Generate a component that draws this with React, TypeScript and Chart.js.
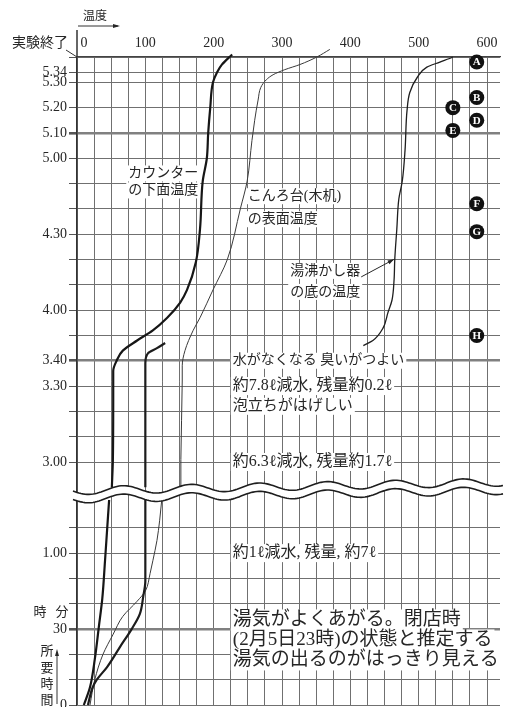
import React, { useEffect, useRef } from "react";
import { Chart, registerables } from "chart.js";

Chart.register(...registerables);

// ---- axis break: real minutes between ~1:22 and ~2:48 are cut out ----
const BREAK_SHIFT = 84;
const toAxis = (t: number | null): number | null =>
  t === null ? null : t <= 120 ? t : t - BREAK_SHIFT;

// ---- curves (temperature °C, elapsed time in minutes; null = axis break) ----
const counterTime = [0, 7, 18, 31, 42, 57, 69, 81, null, 170, 181, 205, 216, 220, 224, 228, 232, 237, 243, 248, 259, 272, 291, 300, 310, 320, 330, 334, 337, 341];
const counterTemp = [10, 19, 26, 32, 37, 41, 44, 47, null, 51, 52.5, 53, 53, 58, 67, 88, 111, 132, 151, 161, 174, 180, 184, 190, 192, 195, 199, 205, 212, 227];

const waterTime = [0, 7, 10, 15, 23, 30, 36, 43, 49, 57, 81, null, 170, 181, 219, 223, 225, 227];
const waterTemp = [16, 23, 29, 44, 63, 80, 92, 97, 100, 100, 100, null, 100, 100, 100, 104, 117, 129];

const konroTime = [0, 10, 20, 28, 35, 41, 45, 52, 57, 65, 73, 81, null, 170, 181, 212, 218, 224, 232, 237, 248, 260, 280, 291, 307, 315, 323, 328, 331, 333, 335, 337, 340, 343];
const konroTemp = [19, 26, 38, 53, 67, 88, 100, 107, 111, 117, 121, 124, null, 152, 152, 154, 154, 158, 170, 180, 199, 220, 239, 249, 256, 260, 265, 269, 277, 287, 304, 326, 351, 370];

const kettleTime = [226, 228, 233, 239, 244, 252, 260, 272, 284, 291, 303, 319, 326, 332, 336, 338, 340, 342];
const kettleTemp = [419, 433, 448, 455, 461, 464, 465, 468, 471, 476, 480, 483, 487, 498, 512, 531, 550, 561];

// ---- lettered markers ----
const markerLetters = ["A", "B", "C", "D", "E", "F", "G", "H"];
const markerTemp = [585, 585, 550, 585, 550, 585, 585, 585];
const markerTime = [338, 324, 320, 315, 311, 282, 271, 230];

// ---- axes ----
const xGridTemps = [0, 25, 50, 75, 100, 125, 150, 175, 200, 225, 250, 275, 300, 325, 350, 375, 400, 425, 450, 475, 500, 525, 550, 575, 600];
const xLabelTemps = [0, 100, 200, 300, 400, 500, 600];
const xLabelTexts = ["\u2007\u20070", "100", "200", "300", "400", "500", "600"];

const yGridTimes = [0, 10, 20, 30, 40, 50, 60, 70, 180, 190, 200, 210, 220, 230, 240, 250, 260, 270, 280, 290, 300, 310, 320, 330, 334, 340];
const yLabelTimes = [0, 30, 60, 180, 210, 220, 240, 270, 300, 310, 320, 330, 334];
const yLabelTexts = ["0", "30", "1.00", "3.00", "3.30", "3.40", "4.00", "4.30", "5.00", "5.10", "5.20", "5.30", "5.34"];
const yThickTimes = [30, 220, 310];

const SERIF = "'Liberation Serif', 'Noto Sans CJK JP', serif";
const INK = "#262626";

const pts = (temps: (number | null)[], times: (number | null)[]) =>
  temps.map((T, i) => ({ x: T, y: toAxis(times[i]) }));

function arrowHead(ctx: CanvasRenderingContext2D, x: number, y: number, ang: number, len = 7, half = 2.6) {
  ctx.beginPath();
  ctx.moveTo(x, y);
  ctx.lineTo(x - len * Math.cos(ang) + half * Math.sin(ang), y - len * Math.sin(ang) - half * Math.cos(ang));
  ctx.lineTo(x - len * Math.cos(ang) - half * Math.sin(ang), y - len * Math.sin(ang) + half * Math.cos(ang));
  ctx.closePath();
  ctx.fill();
}

const notes = [
  { lines: ["カウンター", "の下面温度"], temp: 75, time: 294, size: 14, lh: 17 },
  { lines: ["こんろ台(木机)", "の表面温度"], temp: 250, time: 285, size: 14, lh: 23 },
  { lines: ["湯沸かし器", "の底の温度"], temp: 312, time: 255.5, size: 14, lh: 21 },
  { lines: ["水がなくなる 臭いがつよい"], temp: 228, time: 220, size: 14, lh: 0 },
  { lines: ["約7.8ℓ減水, 残量約0.2ℓ"], temp: 228, time: 210, size: 16, lh: 0 },
  { lines: ["泡立ちがはげしい"], temp: 228, time: 202, size: 15, lh: 0 },
  { lines: ["約6.3ℓ減水, 残量約1.7ℓ"], temp: 228, time: 180, size: 16, lh: 0 },
  { lines: ["約1ℓ減水, 残量, 約7ℓ"], temp: 228, time: 60, size: 16, lh: 0 },
  {
    lines: ["湯気がよくあがる。閉店時", "(2月5日23時)の状態と推定する", "湯気の出るのがはっきり見える"],
    temp: 228, time: 33.6, size: 19, lh: 20,
  },
];

const decorPlugin = {
  id: "decor",
  beforeDatasetsDraw(chart: any) {
    const ctx: CanvasRenderingContext2D = chart.ctx;
    const xs = chart.scales.x, ys = chart.scales.y;
    ctx.save();
    ctx.textBaseline = "middle";
    ctx.textAlign = "left";
    notes.forEach((n, ni) => {
      ctx.font = `${n.size}px ${SERIF}`;
      const x0 = xs.getPixelForValue(n.temp);
      const y0 = ys.getPixelForValue(toAxis(n.time));
      n.lines.forEach((line, li) => {
        const cy = y0 + li * n.lh;
        const w = ctx.measureText(line).width;
        ctx.fillStyle = "#fff";
        ctx.fillRect(x0 - 2, cy - n.size / 2 - 1, w + 4, n.size + 2);
        ctx.fillStyle = INK;
        ctx.fillText(line, x0, cy);
        if (ni === 2 && li === 0) {
          // leader arrow to kettle curve
          const tx = xs.getPixelForValue(kettleTemp[6]);
          const ty = ys.getPixelForValue(toAxis(kettleTime[6]));
          const sx = x0 + w + 1, sy = cy + 6;
          ctx.strokeStyle = INK;
          ctx.lineWidth = 1;
          ctx.beginPath();
          ctx.moveTo(sx, sy);
          ctx.lineTo(tx - 1, ty);
          ctx.stroke();
          arrowHead(ctx, tx - 1, ty, Math.atan2(ty - sy, tx - 1 - sx), 6, 2.2);
        }
      });
    });
    ctx.restore();
  },
  afterDatasetsDraw(chart: any) {
    const ctx: CanvasRenderingContext2D = chart.ctx;
    const area = chart.chartArea;
    const ys = chart.scales.y;
    // axis-break band
    const xA = area.left - 4, xB = area.right + 3;
    const yc0 = ys.getPixelForValue(83);
    const wave = (x: number) => yc0 - (x - xA) * 0.02 - 4 * Math.sin((2 * Math.PI * (x - 106)) / 68);
    const gap = 4.2;
    ctx.save();
    ctx.beginPath();
    for (let x = xA; x <= xB; x += 2) ctx.lineTo(x, wave(x) - gap);
    for (let x = xB; x >= xA; x -= 2) ctx.lineTo(x, wave(x) + gap);
    ctx.closePath();
    ctx.fillStyle = "#fff";
    ctx.fill();
    ctx.strokeStyle = "#1e1e1e";
    ctx.lineWidth = 1.6;
    [-gap, gap].forEach((d) => {
      ctx.beginPath();
      for (let x = xA; x <= xB; x += 2) ctx.lineTo(x, wave(x) + d);
      ctx.stroke();
    });
    // marker letters
    const meta = chart.getDatasetMeta(4);
    ctx.fillStyle = "#fff";
    ctx.font = `bold 11px ${SERIF}`;
    ctx.textAlign = "center";
    ctx.textBaseline = "middle";
    meta.data.forEach((pt: any, i: number) => {
      ctx.fillText(markerLetters[i], pt.x, pt.y + 0.5);
    });
    ctx.restore();
  },
  afterDraw(chart: any) {
    const ctx: CanvasRenderingContext2D = chart.ctx;
    const area = chart.chartArea;
    const ys = chart.scales.y;
    ctx.save();
    ctx.strokeStyle = "#333";
    ctx.fillStyle = INK;
    // y axis extends above the plot
    ctx.lineWidth = 1.5;
    ctx.beginPath();
    ctx.moveTo(area.left, area.top - 27);
    ctx.lineTo(area.left, area.top);
    ctx.stroke();
    // 温度 arrow
    ctx.lineWidth = 1;
    ctx.beginPath();
    ctx.moveTo(area.left + 1, area.top - 31);
    ctx.lineTo(area.left + 41, area.top - 31);
    ctx.stroke();
    arrowHead(ctx, area.left + 43, area.top - 31, 0, 7, 2);
    ctx.font = `12px ${SERIF}`;
    ctx.textAlign = "center";
    ctx.textBaseline = "middle";
    ctx.fillText("温度", area.left + 18, area.top - 40);
    // 実験終了
    ctx.font = `14px ${SERIF}`;
    ctx.textAlign = "right";
    ctx.fillText("実験終了", area.left - 9, area.top - 14);
    ctx.beginPath();
    ctx.moveTo(area.left - 11, area.top - 7);
    ctx.lineTo(area.left, area.top);
    ctx.stroke();
    // 時 分
    ctx.font = `13px ${SERIF}`;
    ctx.textAlign = "center";
    const yHM = ys.getPixelForValue(36.5);
    ctx.fillText("時", area.left - 37, yHM);
    ctx.fillText("分", area.left - 15, yHM);
    // 所要時間 (vertical) with arrow
    const chars = ["所", "要", "時", "間"];
    const yBase = ys.getPixelForValue(0);
    chars.forEach((c, i) => ctx.fillText(c, area.left - 30, yBase - 53 + i * 16.3));
    ctx.beginPath();
    ctx.moveTo(area.left - 20, yBase - 1);
    ctx.lineTo(area.left - 20, yBase - 50);
    ctx.stroke();
    arrowHead(ctx, area.left - 20, yBase - 56, -Math.PI / 2, 7, 2);
    ctx.restore();
  },
};

const curveStyle = {
  pointRadius: 0,
  indexAxis: "y",
  cubicInterpolationMode: "monotone",
  clip: false,
};

export default function App() {
  const ref = useRef<HTMLCanvasElement>(null);
  useEffect(() => {
    const canvas = ref.current;
    if (!canvas) return;
    const chart = new Chart(canvas, {
      type: "line",
      data: {
        datasets: [
          { label: "カウンターの下面温度", data: pts(counterTemp, counterTime), borderColor: "#161616", borderWidth: 2.2, ...curveStyle } as any,
          { label: "湯の温度", data: pts(waterTemp, waterTime), borderColor: "#1c1c1c", borderWidth: 2.2, ...curveStyle } as any,
          { label: "こんろ台(木机)の表面温度", data: pts(konroTemp, konroTime), borderColor: "#3a3a3a", borderWidth: 1, ...curveStyle } as any,
          { label: "湯沸かし器の底の温度", data: pts(kettleTemp, kettleTime), borderColor: "#1e1e1e", borderWidth: 1.3, ...curveStyle } as any,
          {
            label: "markers",
            data: pts(markerTemp, markerTime),
            showLine: false,
            pointRadius: 7.5,
            pointBackgroundColor: "#111",
            pointBorderColor: "#111",
            pointBorderWidth: 0,
            clip: false,
          } as any,
        ],
      },
      options: {
        responsive: false,
        animation: false,
        events: [],
        layout: { autoPadding: false, padding: { left: 0, top: 0, right: 10, bottom: 2 } },
        plugins: { legend: { display: false }, tooltip: { enabled: false } },
        scales: {
          x: {
            type: "linear",
            position: "top",
            min: 0,
            max: 619,
            afterBuildTicks: (s: any) => {
              s.ticks = xGridTemps.map((v) => ({ value: v }));
            },
            afterFit: (s: any) => {
              s.height = 57;
              s.paddingLeft = 0;
              s.paddingRight = 0;
            },
            grid: { color: "#707070", lineWidth: 1, drawTicks: false },
            border: { display: true, color: "#444", width: 1.2 },
            ticks: {
              autoSkip: false,
              maxRotation: 0,
              padding: 5,
              color: INK,
              font: { family: SERIF, size: 14 },
              callback: (v: any) => {
                const i = xLabelTemps.indexOf(Number(v));
                return i >= 0 ? xLabelTexts[i] : "";
              },
            },
          },
          y: {
            type: "linear",
            position: "left",
            min: 0,
            max: toAxis(340) as number,
            afterBuildTicks: (s: any) => {
              s.ticks = yGridTimes.map((t) => ({ value: toAxis(t) }));
            },
            afterFit: (s: any) => {
              s.width = 77;
              s.paddingTop = 0;
              s.paddingBottom = 0;
            },
            grid: {
              color: (c: any) => (yThickTimes.some((t) => toAxis(t) === c.tick?.value) ? "#808080" : "#707070"),
              lineWidth: (c: any) => (yThickTimes.some((t) => toAxis(t) === c.tick?.value) ? 2.6 : 1),
              tickLength: 8,
              tickColor: "#555",
            },
            border: { display: true, color: "#333", width: 1.5 },
            ticks: {
              autoSkip: false,
              padding: 2,
              color: INK,
              font: { family: SERIF, size: 14, lineHeight: 0.2 },
              callback: (v: any) => {
                const i = yLabelTimes.findIndex((t) => toAxis(t) === Number(v));
                return i >= 0 ? yLabelTexts[i] : "";
              },
            },
          },
        },
      },
      plugins: [decorPlugin],
    });
    return () => chart.destroy();
  }, []);
  return (
    <div style={{ position: "fixed", left: 0, top: 0, width: 510, height: 707, background: "#fff" }}>
      <canvas ref={ref} width={510} height={707} style={{ display: "block", width: 510, height: 707 }} />
    </div>
  );
}
